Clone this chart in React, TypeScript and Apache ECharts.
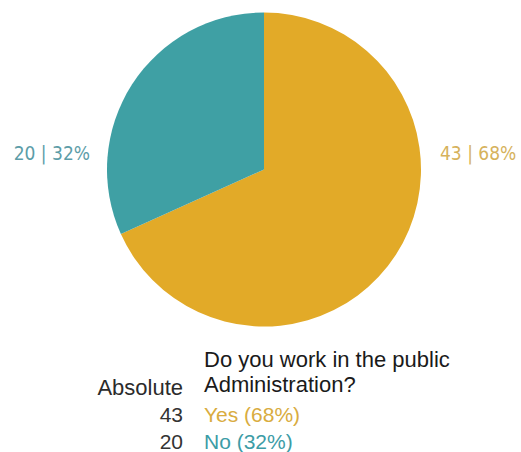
import React, { useEffect, useRef } from "react";
import * as echarts from "echarts";

const categories = ["Yes", "No"];
const values = [43, 20];
const colors = ["#E2AA28", "#3FA0A4"];
const labelColors = ["#D6B25C", "#5C9DA8"];
const legendColors = ["#D9AC40", "#3C9CA6"];
const titleLines = ["Do you work in the public", "Administration?"];
const columnHeader = "Absolute";

export default function App() {
  const ref = useRef<HTMLDivElement>(null);
  useEffect(() => {
    if (!ref.current) return;
    const chart = echarts.init(ref.current, null, { renderer: "svg" });
    const total = values.reduce((a, b) => a + b, 0);
    const pct = values.map((v) => Math.round((v / total) * 100));
    const legendFont = "Liberation Sans, Arial, sans-serif";
    const graphics: any[] = [];
    titleLines.forEach((t, i) => {
      graphics.push({
        type: "text",
        x: 204,
        y: 359 + i * 25,
        style: { text: t, fill: "#1a1a1a", font: `22px ${legendFont}`, verticalAlign: "middle" },
      });
    });
    graphics.push({
      type: "text",
      x: 183,
      y: 387,
      style: { text: columnHeader, fill: "#2b2b2b", font: `22px ${legendFont}`, align: "right", verticalAlign: "middle" },
    });
    categories.forEach((c, i) => {
      graphics.push({
        type: "text",
        x: 183,
        y: 414 + i * 27,
        style: { text: String(values[i]), fill: "#333", font: `21px ${legendFont}`, align: "right", verticalAlign: "middle" },
      });
      graphics.push({
        type: "text",
        x: 204,
        y: 414 + i * 27,
        style: { text: `${c} (${pct[i]}%)`, fill: legendColors[i], font: `21px ${legendFont}`, align: "left", verticalAlign: "middle" },
      });
    });
    chart.setOption({
      animation: false,
      graphic: graphics,
      series: [
        {
          type: "pie",
          center: [264, 169.5],
          radius: 157,
          startAngle: 90,
          clockwise: true,
          data: categories.map((c, i) => ({
            name: c,
            value: values[i],
            itemStyle: { color: colors[i] },
            label: { color: labelColors[i] },
          })),
          label: {
            show: true,
            position: "outside",
            fontFamily: "DejaVu Sans Condensed, sans-serif",
            fontSize: 19,
            overflow: "none",
            width: 120,
            formatter: (p: any) => `${p.value} | ${Math.round(p.percent)}%`,
          },
          labelLine: { show: false },
          labelLayout: (p: any) => ({
            x: p.dataIndex === 0 ? 440 : 90,
            y: 153,
            align: p.dataIndex === 0 ? "left" : "right",
            verticalAlign: "middle",
          }),
          emphasis: { disabled: true },
        },
      ],
    });
    return () => chart.dispose();
  }, []);
  return (
    <div
      ref={ref}
      style={{ position: "fixed", left: 0, top: 0, width: 521, height: 452, background: "#fff" }}
    />
  );
}
